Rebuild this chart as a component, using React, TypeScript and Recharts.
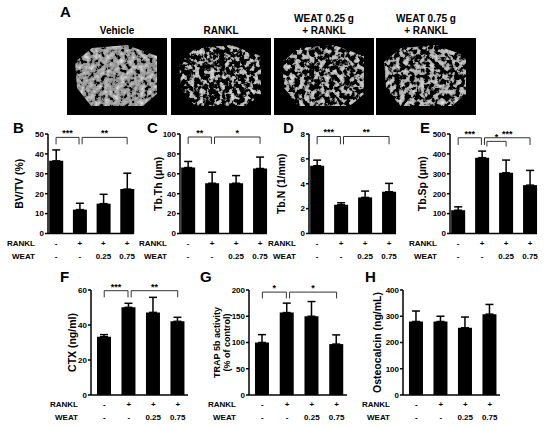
import React from 'react'
import { BarChart, Bar, XAxis, YAxis, ErrorBar, ReferenceLine } from 'recharts'

// group order on every panel: vehicle, RANKL, WEAT 0.25 + RANKL, WEAT 0.75 + RANKL
const groups = [1, 2, 3, 4]
const ranklRow = ['-', '+', '+', '+']
const weatRow = ['-', '-', '0.25', '0.75']
const imageTitles = [['Vehicle'], ['RANKL'], ['WEAT 0.25 g', '+ RANKL'], ['WEAT 0.75 g', '+ RANKL']]

const bvtvMean = [36.5, 12, 15, 22.3]
const bvtvSem = [5.5, 3.2, 4.7, 8]
const bvtvTicks = [0, 10, 20, 30, 40, 50]

const tbthMean = [66.3, 50.5, 50.5, 65.3]
const tbthSem = [6.1, 11.1, 7.7, 11.5]
const tbthTicks = [0, 20, 40, 60, 80, 100]

const tbnMean = [5.45, 2.31, 2.9, 3.36]
const tbnSem = [0.45, 0.16, 0.51, 0.67]
const tbnTicks = [0, 2, 4, 6, 8]

const tbspMean = [117, 381, 305, 243]
const tbspSem = [17, 33, 64, 74]
const tbspTicks = [0, 100, 200, 300, 400, 500]

const ctxMean = [33.3, 50.1, 47.2, 42.1]
const ctxSem = [1.2, 2.3, 8.6, 2.3]
const ctxTicks = [0, 20, 40, 60]

const trapMean = [100, 157, 150, 97]
const trapSem = [15, 18, 28, 17.5]
const trapTicks = [0, 50, 100, 150, 200]

const ocnMean = [280, 280, 256, 308]
const ocnSem = [40, 20, 41, 37]
const ocnTicks = [0, 100, 200, 300, 400]

type Mark = { from: number; to: number; top: number; foot: number; stars: string }

const bvtvMarks: Mark[] = [
  { from: 1, to: 1.97, top: 48.3, foot: 44.8, stars: '***' },
  { from: 2.1, to: 4, top: 48.3, foot: 44.8, stars: '**' },
]
const tbthMarks: Mark[] = [
  { from: 1, to: 1.97, top: 97, foot: 90, stars: '**' },
  { from: 2.1, to: 4, top: 97, foot: 90, stars: '*' },
]
const tbnMarks: Mark[] = [
  { from: 1, to: 1.97, top: 7.8, foot: 7.17, stars: '***' },
  { from: 2.1, to: 4, top: 7.8, foot: 7.17, stars: '**' },
]
const tbspMarks: Mark[] = [
  { from: 1, to: 1.97, top: 481, foot: 445, stars: '***' },
  { from: 2.1, to: 4, top: 481, foot: 445, stars: '***' },
  { from: 2.2, to: 3, top: 463, foot: 437, stars: '*' },
]
const ctxMarks: Mark[] = [
  { from: 1, to: 1.97, top: 59.6, foot: 55.8, stars: '***' },
  { from: 2.1, to: 4, top: 59.6, foot: 55.8, stars: '**' },
]
const trapMarks: Mark[] = [
  { from: 1, to: 1.97, top: 196, foot: 184, stars: '*' },
  { from: 2.1, to: 4, top: 196, foot: 184, stars: '*' },
]

const FONT = '"Liberation Sans", Arial, sans-serif'
const Y_W = 40
const M_LEFT = 10
const M_TOP = 14
const X_H = 30

function AxisTitle(props: any) {
  const { viewBox, lines, gap, size } = props
  const ax = viewBox.x + viewBox.width
  const cy = viewBox.y + viewBox.height / 2
  const lh = size + 1
  return (
    <text
      transform={`translate(${ax - gap}, ${cy}) rotate(-90)`}
      textAnchor="middle"
      fontSize={size}
      fontWeight="bold"
      fill="#000"
    >
      {lines.map((l: string, i: number) => (
        <tspan key={l} x={0} y={(i - (lines.length - 1) / 2) * lh} dominantBaseline="central">
          {l}
        </tspan>
      ))}
    </text>
  )
}

function RowLabels(props: any) {
  const { viewBox } = props
  const x = viewBox.x - 13
  return (
    <g fontSize={8} fontWeight="bold" fill="#000">
      <text x={x} y={viewBox.y + 12} textAnchor="end">RANKL</text>
      <text x={x} y={viewBox.y + 25} textAnchor="end">WEAT</text>
    </g>
  )
}

function GroupTick(props: any) {
  const { x, y, payload } = props
  const i = groups.indexOf(payload.value)
  if (i < 0) return null
  return (
    <g fontSize={8} fontWeight="bold" fill="#000" textAnchor="middle">
      <text x={x} y={y + 12}>{ranklRow[i]}</text>
      <text x={x} y={y + 25}>{weatRow[i]}</text>
    </g>
  )
}

interface PanelProps {
  x: number
  y: number
  w: number
  h: number
  domainX: [number, number]
  mean: number[]
  sem: number[]
  ticks: number[]
  marks: Mark[]
  title: string[]
  titleGap: number
  titleSize: number
}

function Panel({ x, y, w, h, domainX, mean, sem, ticks, marks, title, titleGap, titleSize }: PanelProps) {
  const data = groups.map((g, i) => ({ g, mean: mean[i], sem: [0, sem[i]] }))
  return (
    <div style={{ position: 'absolute', left: x - Y_W - M_LEFT, top: y - M_TOP }}>
      <BarChart
        width={M_LEFT + Y_W + w + 4}
        height={M_TOP + h + X_H}
        data={data}
        margin={{ top: M_TOP, right: 4, bottom: 0, left: M_LEFT }}
      >
        <XAxis
          type="number"
          dataKey="g"
          domain={domainX}
          ticks={groups}
          interval={0}
          height={X_H}
          tickSize={0}
          tickMargin={0}
          tickLine={false}
          axisLine={{ stroke: '#000', strokeWidth: 1.5 }}
          tick={<GroupTick />}
          label={<RowLabels />}
        />
        <YAxis
          type="number"
          domain={[0, ticks[ticks.length - 1]]}
          ticks={ticks}
          interval={0}
          width={Y_W}
          tickSize={3}
          tickMargin={1}
          axisLine={{ stroke: '#000', strokeWidth: 1.5 }}
          tickLine={{ stroke: '#000', strokeWidth: 1.5 }}
          tick={{ fill: '#000', fontSize: 8, fontWeight: 'bold' }}
          label={<AxisTitle lines={title} gap={titleGap} size={titleSize} />}
        />
        <Bar dataKey="mean" fill="#000" barSize={14} isAnimationActive={false}>
          <ErrorBar dataKey="sem" width={4} stroke="#000" strokeWidth={1.5} />
        </Bar>
        {marks.map((m, k) => [
          <ReferenceLine
            key={`h${k}`}
            segment={[{ x: m.from, y: m.top }, { x: m.to, y: m.top }]}
            stroke="#333"
            strokeWidth={1}
            label={{ value: m.stars, position: 'top', offset: 1, fontSize: 9, fontWeight: 'bold', fill: '#000' }}
          />,
          <ReferenceLine
            key={`l${k}`}
            segment={[{ x: m.from, y: m.top }, { x: m.from, y: m.foot }]}
            stroke="#333"
            strokeWidth={1}
          />,
          <ReferenceLine
            key={`r${k}`}
            segment={[{ x: m.to, y: m.top }, { x: m.to, y: m.foot }]}
            stroke="#333"
            strokeWidth={1}
          />,
        ])}
      </BarChart>
    </div>
  )
}

// micro-CT thumbnails can't be reproduced; a speckled grey block stands in for each
const boxX = [67, 171, 274, 376]
const boneDensity = [0.3, 0.47, 0.45, 0.43]

function CtImages() {
  return (
    <svg width={550} height={120} style={{ position: 'absolute', left: 0, top: 0 }}>
      <defs>
        {boneDensity.map((t, i) => (
          <filter
            key={i}
            id={`bone${i}`}
            x="-5%"
            y="-5%"
            width="110%"
            height="110%"
            colorInterpolationFilters="sRGB"
          >
            <feTurbulence type="fractalNoise" baseFrequency="0.2" numOctaves={3} seed={i + 2} result="noise" />
            <feColorMatrix
              in="noise"
              type="matrix"
              values={`0.8 0 0 0 0.2  0.8 0 0 0 0.2  0.8 0 0 0 0.2  9 0 0 0 ${-9 * t}`}
              result="speck"
            />
            <feComposite in="speck" in2="SourceGraphic" operator="in" />
          </filter>
        ))}
      </defs>
      <text x={60} y={17} fontSize={15} fontWeight="bold">A</text>
      {boxX.map((bx, i) => (
        <g key={bx}>
          {imageTitles[i].map((t, j) => (
            <text
              key={t}
              x={bx + 50}
              y={imageTitles[i].length === 2 ? 22 + j * 11.5 : 33.5}
              fontSize={10}
              fontWeight="bold"
              textAnchor="middle"
            >
              {t}
            </text>
          ))}
          <rect x={bx} y={38} width={100} height={77} fill="#000" />
          <polygon
            points={`${bx + 8},${38 + 24} ${bx + 25},${38 + 10} ${bx + 60},${38 + 7} ${bx + 90},${38 + 18} ${bx + 90},${38 + 56} ${bx + 76},${38 + 68} ${bx + 24},${38 + 68} ${bx + 10},${38 + 50}`}
            fill="#fff"
            filter={`url(#bone${i})`}
          />
        </g>
      ))}
    </svg>
  )
}

const letters = [
  ['B', 13, 133],
  ['C', 147, 133],
  ['D', 283, 133],
  ['E', 420, 133],
  ['F', 60, 282],
  ['G', 200, 282],
  ['H', 365, 282],
] as const

export default function App() {
  const row1: [number, number] = [0.66, 4.29]
  const row2: [number, number] = [0.46, 4.42]
  return (
    <div
      style={{
        position: 'absolute',
        left: 0,
        top: 0,
        width: 550,
        height: 427,
        background: '#fff',
        fontFamily: FONT,
        overflow: 'hidden',
      }}
    >
      <CtImages />
      <Panel x={48} y={134} w={86} h={99.5} domainX={row1} mean={bvtvMean} sem={bvtvSem} ticks={bvtvTicks}
        marks={bvtvMarks} title={['BV/TV (%)']} titleGap={29} titleSize={10.5} />
      <Panel x={180} y={134} w={87} h={99.5} domainX={row1} mean={tbthMean} sem={tbthSem} ticks={tbthTicks}
        marks={tbthMarks} title={['Tb.Th (μm)']} titleGap={22} titleSize={10.5} />
      <Panel x={309} y={134} w={87} h={99.5} domainX={row1} mean={tbnMean} sem={tbnSem} ticks={tbnTicks}
        marks={tbnMarks} title={['Tb.N (1/mm)']} titleGap={28} titleSize={10.5} />
      <Panel x={450} y={134} w={87} h={99.5} domainX={row1} mean={tbspMean} sem={tbspSem} ticks={tbspTicks}
        marks={tbspMarks} title={['Tb.Sp (μm)']} titleGap={28} titleSize={10.5} />
      <Panel x={91} y={289.5} w={97} h={105} domainX={row2} mean={ctxMean} sem={ctxSem} ticks={ctxTicks}
        marks={ctxMarks} title={['CTX (ng/ml)']} titleGap={19} titleSize={10.5} />
      <Panel x={249} y={289.5} w={98} h={105} domainX={row2} mean={trapMean} sem={trapSem} ticks={trapTicks}
        marks={trapMarks} title={['TRAP 5b activity', '(% of control)']} titleGap={27.5} titleSize={9} />
      <Panel x={403} y={289.5} w={97} h={105} domainX={row2} mean={ocnMean} sem={ocnSem} ticks={ocnTicks}
        marks={[]} title={['Osteocalcin (ng/mL)']} titleGap={26} titleSize={10.5} />
      <svg width={550} height={427} style={{ position: 'absolute', left: 0, top: 0, pointerEvents: 'none' }}>
        {letters.map(([t, lx, ly]) => (
          <text key={t} x={lx} y={ly} fontSize={15} fontWeight="bold">{t}</text>
        ))}
      </svg>
    </div>
  )
}
